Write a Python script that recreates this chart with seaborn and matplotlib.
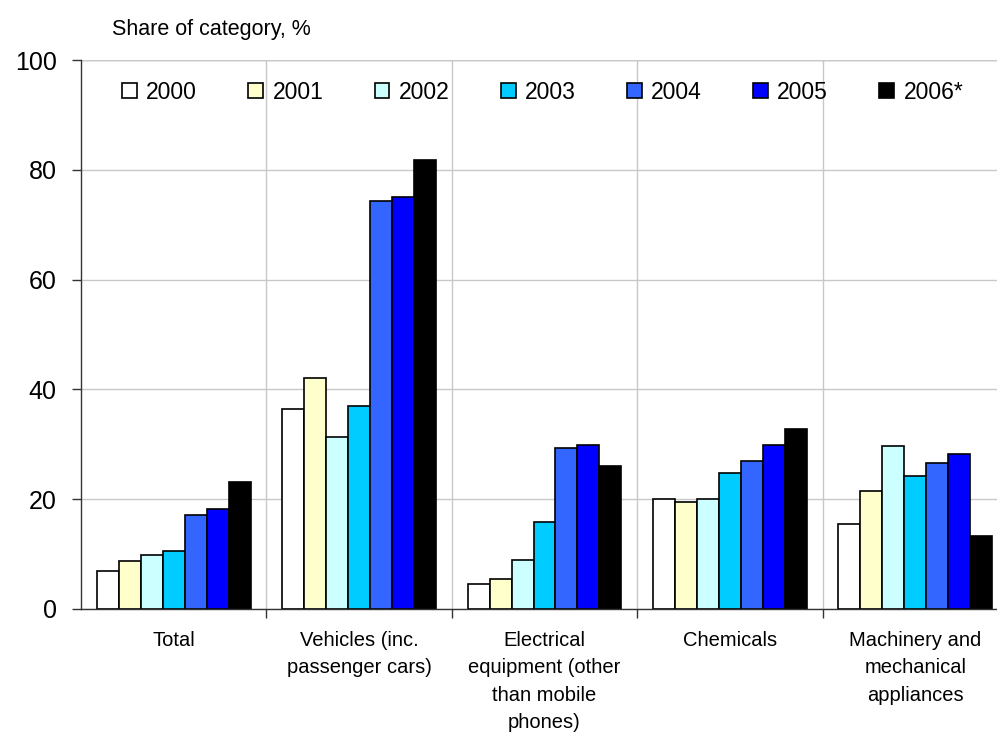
import pandas as pd
import matplotlib.pyplot as plt
import seaborn as sns

categories = ['Total', 'Vehicles (inc.\npassenger cars)', 'Electrical\nequipment (other\nthan mobile\nphones)',
              'Chemicals', 'Machinery and\nmechanical\nappliances']
years = ['2000', '2001', '2002', '2003', '2004', '2005', '2006*']
values = {
    '2000': [7.0, 36.4, 4.5, 20.1, 15.5],
    '2001': [8.8, 42.1, 5.5, 19.4, 21.5],
    '2002': [9.9, 31.4, 8.9, 20.0, 29.6],
    '2003': [10.6, 37.0, 15.8, 24.8, 24.2],
    '2004': [17.2, 74.3, 29.3, 27.0, 26.6],
    '2005': [18.3, 75.1, 29.9, 29.9, 28.2],
    '2006*': [23.1, 81.8, 26.0, 32.7, 13.3],
}
colors = ['#FFFFFF', '#FFFFCC', '#CCFFFF', '#00CCFF', '#3366FF', '#0000FF', '#000000']

rows = []
for y in years:
    for c, v in zip(categories, values[y]):
        rows.append({'category': c, 'year': y, 'value': v})
df = pd.DataFrame(rows)

sns.set_theme(style='white')
plt.rcParams['font.family'] = ['Liberation Sans', 'DejaVu Sans']
plt.rcParams['text.color'] = 'black'
plt.rcParams['xtick.color'] = 'black'
plt.rcParams['ytick.color'] = 'black'

fig = plt.figure(figsize=(9.97, 7.42), dpi=100)
ax = fig.add_axes([81 / 997, 133 / 742, 927 / 997, 549 / 742])

sns.barplot(data=df, x='category', y='value', hue='year', hue_order=years,
            palette=colors, width=0.83, edgecolor='black', linewidth=1.2,
            saturation=1, ax=ax, legend=True)

ax.set_xlim(-0.5, 4.5)
ax.set_ylim(0, 100)
ax.set_yticks([0, 20, 40, 60, 80, 100])
ax.tick_params(axis='y', labelsize=18, length=6.5, width=1, color='#333333',
               labelcolor='black', direction='out', left=True, pad=11)
ax.set_xticks(range(5))
ax.set_xticklabels(categories, fontsize=14.5, va='top', linespacing=1.55)
ax.tick_params(axis='x', which='major', length=0, pad=16, labelcolor='black')
ax.set_xticks([0.5, 1.5, 2.5, 3.5], minor=True)
ax.tick_params(axis='x', which='minor', length=6.5, width=1, color='#333333', direction='out', bottom=True)
ax.yaxis.grid(True, color='#C8C8C8', linewidth=1)
ax.xaxis.grid(True, which='minor', color='#C8C8C8', linewidth=1)
ax.set_axisbelow(True)
ax.set_xlabel('')
ax.set_ylabel('')
for s in ['top', 'right']:
    ax.spines[s].set_visible(False)
for s in ['left', 'bottom']:
    ax.spines[s].set_color('#333333')
    ax.spines[s].set_linewidth(1)
ax.axhline(100, color='#A0A0A0', linewidth=1, zorder=0)

handles, labels = ax.get_legend_handles_labels()
for h in handles:
    h.set_linewidth(1.2)
ax.legend(handles, labels, loc='center left', bbox_to_anchor=(0.0245, (609 - 92) / 549), ncol=7,
          frameon=False, fontsize=16.5, handlelength=0.65, handleheight=0.65,
          handletextpad=0.4, columnspacing=2.24, borderpad=0.3)

fig.text(112 / 997, 1 - 30 / 742, 'Share of category, %', fontsize=15.5, va='center')

plt.savefig('out.png', dpi=100)
plt.close()
